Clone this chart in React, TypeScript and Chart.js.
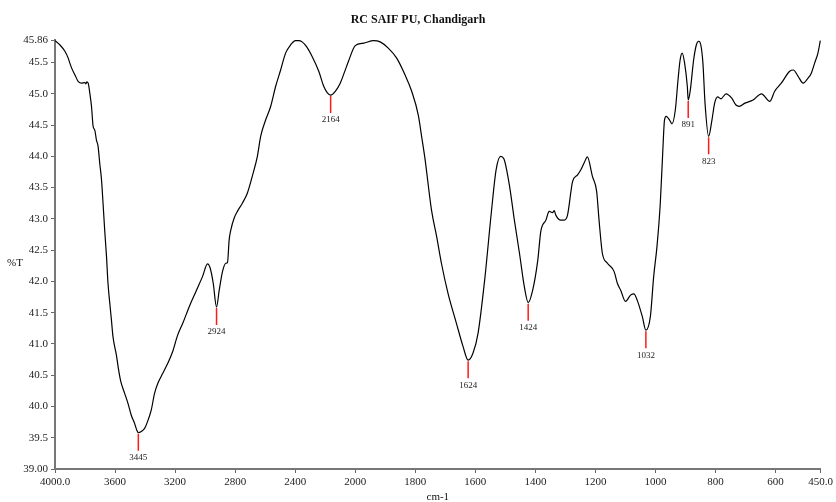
import React, { useEffect, useRef } from 'react';
import { Chart, registerables } from 'chart.js';

Chart.register(...registerables);

const chartTitle = 'RC SAIF PU, Chandigarh';
const xAxisTitle = 'cm-1';
const yAxisTitle = '%T';

const waveNumbers = [
  4000, 3967, 3934, 3912, 3901, 3889, 3867, 3846, 3823, 3801, 3794, 3788, 3779, 3768, 3757, 3746,
  3735, 3724, 3713, 3702, 3690, 3680, 3669, 3657, 3647, 3635, 3624, 3614, 3591, 3576, 3562, 3536,
  3514, 3492, 3470, 3455, 3445, 3425, 3403, 3388, 3359, 3337, 3315, 3282, 3249, 3216, 3183, 3149,
  3105, 3061, 3017, 2984, 2966, 2946, 2924, 2906, 2884, 2862, 2851, 2840, 2829, 2807, 2785, 2752,
  2719, 2686, 2652, 2630, 2597, 2563, 2530, 2497, 2464, 2431, 2398, 2376, 2354, 2323, 2288, 2243,
  2210, 2187, 2164, 2133, 2100, 2071, 2045, 2000, 1972, 1939, 1917, 1890, 1862, 1834, 1812, 1790,
  1779, 1768, 1746, 1729, 1713, 1691, 1663, 1641, 1624, 1608, 1591, 1569, 1547, 1531, 1516, 1505,
  1486, 1470, 1453, 1437, 1424, 1409, 1392, 1382, 1365, 1354, 1343, 1337, 1332, 1315, 1304, 1293,
  1276, 1260, 1249, 1237, 1227, 1210, 1196, 1188, 1177, 1160, 1138, 1127, 1116, 1100, 1083, 1072,
  1061, 1044, 1032, 1017, 1006, 995, 984, 976, 970, 964, 953, 945, 934, 925, 918, 911,
  903, 894, 891, 884, 873, 864, 856, 849, 842, 835, 823, 812, 803, 793, 782, 765,
  746, 732, 721, 702, 675, 647, 619, 603, 581, 553, 541, 525, 508, 492, 481, 470,
  459, 451,
];

const transmittance = [
  45.85, 45.78, 45.68, 45.57, 45.49, 45.41, 45.30, 45.20, 45.17, 45.18, 45.16, 45.19, 45.17, 45.01, 44.80, 44.48,
  44.42, 44.26, 44.16, 43.89, 43.62, 43.25, 42.82, 42.40, 41.97, 41.65, 41.38, 41.12, 40.82, 40.58, 40.40, 40.21,
  40.05, 39.86, 39.73, 39.62, 39.58, 39.60, 39.65, 39.73, 39.94, 40.21, 40.37, 40.53, 40.69, 40.88, 41.14, 41.33,
  41.60, 41.84, 42.08, 42.28, 42.21, 41.97, 41.59, 41.86, 42.16, 42.29, 42.30, 42.66, 42.82, 43.01, 43.12, 43.25,
  43.41, 43.68, 44.00, 44.32, 44.58, 44.80, 45.12, 45.38, 45.65, 45.78, 45.85, 45.85, 45.83, 45.75, 45.60, 45.36,
  45.12, 45.02, 44.98, 45.04, 45.17, 45.35, 45.52, 45.77, 45.81, 45.85, 45.83, 45.73, 45.57, 45.30, 45.04, 44.66,
  44.32, 43.97, 43.14, 42.72, 42.29, 41.81, 41.33, 40.96, 40.74, 40.85, 41.17, 42.02, 43.09, 43.78, 44.00, 43.96,
  43.52, 42.98, 42.45, 41.92, 41.66, 41.86, 42.34, 42.80, 42.98, 43.12, 43.10, 43.13, 43.06, 42.98, 42.98, 43.06,
  43.60, 43.70, 43.78, 43.90, 43.99, 43.68, 43.44, 42.98, 42.45, 42.29, 42.16, 41.97, 41.86, 41.68, 41.78, 41.80,
  41.70, 41.44, 41.22, 41.44, 42.08, 42.56, 43.25, 44.05, 44.58, 44.64, 44.58, 44.52, 44.74, 45.22, 45.54, 45.65,
  45.49, 45.12, 44.90, 45.06, 45.54, 45.78, 45.84, 45.78, 45.49, 44.85, 44.32, 44.58, 44.85, 44.95, 44.92, 45.00,
  44.93, 44.82, 44.80, 44.85, 44.90, 45.00, 44.88, 45.04, 45.17, 45.36, 45.38, 45.28, 45.17, 45.25, 45.33, 45.49,
  45.65, 45.85,
];

const peakWaves = [3445, 2924, 2164, 1624, 1424, 1032, 891, 823];
const peakValues = [39.58, 41.59, 44.98, 40.74, 41.66, 41.22, 44.90, 44.32];

const xTickWaves = [4000, 3600, 3200, 2800, 2400, 2000, 1800, 1600, 1400, 1200, 1000, 800, 600, 450];
const yTickValues = [39, 39.5, 40, 40.5, 41, 41.5, 42, 42.5, 43, 43.5, 44, 44.5, 45, 45.5, 45.86];
const yMin = 39;
const yMax = 45.86;

// The wavenumber axis is compressed by a factor 2 above 2000 cm-1
const toAxis = (w: number) => (w > 2000 ? 2000 + (w - 2000) / 2 : w);
const fromAxis = (a: number) => (a > 2000 ? 2000 + (a - 2000) * 2 : a);

const FONT = "'Liberation Serif', 'Times New Roman', serif";

export default function App() {
  const canvasRef = useRef<HTMLCanvasElement | null>(null);

  useEffect(() => {
    const canvas = canvasRef.current;
    if (!canvas) return;

    const points = waveNumbers.map((w, i) => ({ x: toAxis(w), y: transmittance[i] }));

    const overlay = {
      id: 'irOverlay',
      afterDatasetsDraw(chart: any) {
        const { ctx, chartArea } = chart;
        const xs = chart.scales.x;
        const ys = chart.scales.y;
        ctx.save();
        peakWaves.forEach((w, i) => {
          const px = xs.getPixelForValue(toAxis(w));
          const py = ys.getPixelForValue(peakValues[i]);
          ctx.strokeStyle = '#ff1a1a';
          ctx.lineWidth = 1.5;
          ctx.beginPath();
          ctx.moveTo(px, py + 1);
          ctx.lineTo(px, py + 18);
          ctx.stroke();
          ctx.fillStyle = '#222';
          ctx.font = `9px ${FONT}`;
          ctx.textAlign = 'center';
          ctx.textBaseline = 'middle';
          ctx.fillText(String(w), px, py + 25);
        });
        ctx.fillStyle = '#111';
        ctx.textAlign = 'center';
        ctx.textBaseline = 'middle';
        ctx.font = `bold 12px ${FONT}`;
        ctx.fillText(chartTitle, chart.width / 2, 20);
        ctx.font = `11px ${FONT}`;
        ctx.fillText(yAxisTitle, 15, 263);
        ctx.fillText(xAxisTitle, (chartArea.left + chartArea.right) / 2, 497);
        ctx.restore();
      },
    };

    const chart = new Chart(canvas, {
      type: 'line',
      data: {
        datasets: [
          {
            data: points,
            borderColor: '#000',
            borderWidth: 1.2,
            pointRadius: 0,
            fill: false,
            cubicInterpolationMode: 'monotone',
            clip: 3,
          },
        ],
      },
      options: {
        animation: false,
        responsive: false,
        events: [],
        layout: { padding: { top: 40, right: 12, left: 0, bottom: 0 } },
        plugins: {
          legend: { display: false },
          title: { display: false },
          tooltip: { enabled: false },
        },
        scales: {
          x: {
            type: 'linear',
            reverse: true,
            min: toAxis(450),
            max: toAxis(4000),
            afterBuildTicks: (scale: any) => {
              scale.ticks = xTickWaves.map((w) => ({ value: toAxis(w) }));
            },
            afterFit: (scale: any) => {
              scale.height = 33;
            },
            ticks: {
              autoSkip: false,
              maxRotation: 0,
              padding: 3,
              color: '#222',
              font: { family: FONT, size: 11 },
              callback: (v: any) => {
                const w = Math.round(fromAxis(Number(v)));
                return w === 4000 || w === 450 ? w.toFixed(1) : String(w);
              },
            },
            grid: { drawOnChartArea: false, drawTicks: true, tickLength: 4, color: '#666', lineWidth: 1 },
            border: { display: true, color: '#777', width: 2 },
          },
          y: {
            type: 'linear',
            min: yMin,
            max: yMax,
            afterBuildTicks: (scale: any) => {
              scale.ticks = yTickValues.map((v) => ({ value: v }));
            },
            afterFit: (scale: any) => {
              scale.width = 55;
            },
            ticks: {
              autoSkip: false,
              padding: 3,
              color: '#222',
              font: { family: FONT, size: 11 },
              callback: (v: any) => {
                const n = Number(v);
                if (n === yMin) return n.toFixed(2);
                if (n === yMax) return n.toFixed(2);
                return n.toFixed(1);
              },
            },
            grid: { drawOnChartArea: false, drawTicks: true, tickLength: 4, color: '#666', lineWidth: 1 },
            border: { display: true, color: '#777', width: 2 },
          },
        },
      },
      plugins: [overlay],
    } as any);

    return () => chart.destroy();
  }, []);

  return (
    <div style={{ position: 'fixed', left: 0, top: 0, width: 836, height: 502, background: '#fff' }}>
      <canvas ref={canvasRef} width={836} height={502} style={{ display: 'block' }} />
    </div>
  );
}
